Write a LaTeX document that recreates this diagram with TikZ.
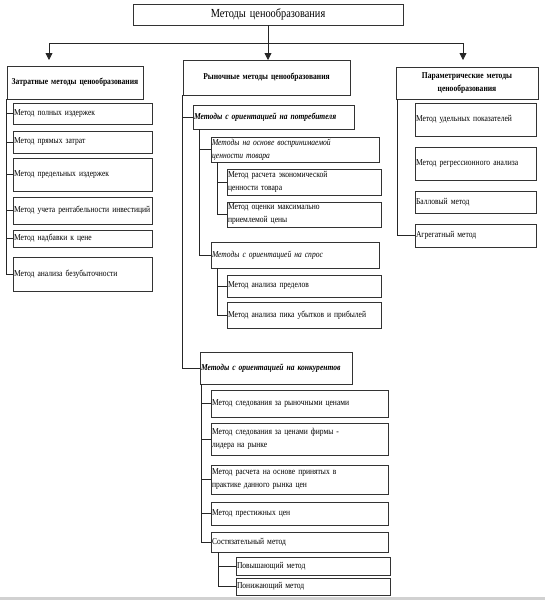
\documentclass[tikz,border=0pt]{standalone}
\usepackage{fontspec}
\setmainfont{Liberation Serif}[FakeStretch=0.84]
\usetikzlibrary{arrows.meta,calc}
\tikzset{
  box/.style={draw=black!80, line width=0.7pt, inner xsep=1pt, inner ysep=0pt, outer sep=0pt,
    font=\fontsize{9}{13}\selectfont, align=left},
  hbox/.style={box, align=center, font=\fontsize{9}{13}\selectfont\bfseries},
  tbox/.style={box, align=center, font=\fontsize{12.3}{14}\selectfont},
  ibox/.style={box, font=\fontsize{9}{13}\selectfont\itshape},
  bibox/.style={box, font=\fontsize{9}{13}\selectfont\bfseries\itshape},
  conn/.style={draw=black!85, line width=0.8pt},
  arr/.style={conn, -{Triangle[width=7pt,length=7pt]}}
}
\newcommand{\mybox}[7]{%
  \pgfmathsetmacro{\mbw}{#4-#2}%
  \pgfmathsetmacro{\mbh}{#5-#3}%
  \pgfmathsetmacro{\mbt}{#4-#2-2}%
  \node[#6, anchor=north west, minimum width=\mbw pt, minimum height=\mbh pt, text width=\mbt pt] (#1) at (#2,-#3) {#7};}
\begin{document}
\begin{tikzpicture}[x=1pt,y=1pt]
\useasboundingbox (0,0) rectangle (545,-600);
\fill[black!18] (0,-596.5) rectangle (545,-600);
% top
\mybox{top}{133}{4}{403}{25}{tbox}{Методы ценообразования}
% headers
\mybox{L}{7}{66}{143}{99}{hbox}{Затратные методы ценообразования}
\mybox{M}{183}{60}{350}{95}{hbox}{Рыночные методы ценообразования}
\mybox{R}{396}{67}{538}{99}{hbox}{Параметрические методы\\ценообразования}
% left children
\mybox{c1}{13}{103}{152}{124}{box}{Метод полных издержек}
\mybox{c2}{13}{131}{152}{153}{box}{Метод прямых затрат}
\mybox{c3}{13}{158}{152}{191}{box}{Метод предельных издержек}
\mybox{c4}{13}{197}{152}{224}{box}{Метод учета рентабельности инвестиций}
\mybox{c5}{13}{230}{152}{247}{box}{Метод надбавки к цене}
\mybox{c6}{13}{257}{152}{291}{box}{Метод анализа безубыточности}
% middle
\mybox{P}{193}{105}{354}{129}{bibox}{Методы с ориентацией на потребителя}
\mybox{V}{211}{137}{379}{162}{ibox}{Методы на основе воспринимаемой\\ценности товара}
\mybox{V1}{227}{169}{381}{195}{box}{Метод расчета экономической\\ценности товара}
\mybox{V2}{227}{202}{381}{227}{box}{Метод оценки максимально\\приемлемой цены}
\mybox{S}{211}{242}{379}{268}{ibox}{Методы с ориентацией на спрос}
\mybox{S1}{227}{275}{381}{297}{box}{Метод анализа пределов}
\mybox{S2}{227}{302}{381}{328}{box}{Метод анализа пика убытков и прибылей}
\mybox{K}{200}{352}{352}{384}{bibox}{Методы с ориентацией на конкурентов}
\mybox{K1}{211}{390}{388}{417}{box}{Метод следования за рыночными ценами}
\mybox{K2}{211}{423}{388}{455}{box}{Метод следования за ценами фирмы -\\лидера на рынке}
\mybox{K3}{211}{465}{388}{494}{box}{Метод расчета на основе принятых в\\практике данного рынка цен}
\mybox{K4}{211}{502}{388}{525}{box}{Метод престижных цен}
\mybox{K5}{211}{532}{388}{552}{box}{Состязательный метод}
\mybox{K51}{236}{557}{390}{575}{box}{Повышающий метод}
\mybox{K52}{236}{578}{390}{595}{box}{Понижающий метод}
% right children
\mybox{R1}{415}{103}{536}{136}{box}{Метод удельных показателей}
\mybox{R2}{415}{147}{536}{180}{box}{Метод регрессионного анализа}
\mybox{R3}{415}{191}{536}{213}{box}{Балловый метод}
\mybox{R4}{415}{224}{536}{247}{box}{Агрегатный метод}
% top connectors
\coordinate (jl) at (49,-43);
\coordinate (jr) at (463,-43);
\draw[conn] (jl) -- (jr);
\draw[arr] (top.south) -- (top.south |- M.north);
\draw[arr, shorten >=6pt] (jl) -- (jl |- L.north);
\draw[arr, shorten >=7pt] (jr) -- (jr |- R.north);
% left
\coordinate (lv) at ($(L.south west)+(-1,0)$);
\draw[conn] (lv) |- (c6.west);
\foreach \n in {c1,c2,c3,c4,c5} \draw[conn] (\n.west -| lv) -- (\n.west);
% middle
\coordinate (mv) at ($(M.south west)+(-1,0)$);
\draw[conn] (mv) |- (K.west);
\draw[conn] (P.west -| mv) -- (P.west);
\coordinate (pv) at ($(P.south west)+(6.5,0)$);
\draw[conn] (pv) |- (S.west);
\draw[conn] (V.west -| pv) -- (V.west);
\coordinate (vv) at ($(V.south west)+(6,0)$);
\draw[conn] (vv) |- (V2.west);
\draw[conn] (V1.west -| vv) -- (V1.west);
\coordinate (sv) at ($(S.south west)+(6,0)$);
\draw[conn] (sv) |- (S2.west);
\draw[conn] (S1.west -| sv) -- (S1.west);
\coordinate (kv) at ($(K.south west)+(1,0)$);
\draw[conn] (kv) |- (K5.west);
\foreach \n in {K1,K2,K3,K4} \draw[conn] (\n.west -| kv) -- (\n.west);
\coordinate (k5v) at ($(K5.south west)+(7,0)$);
\draw[conn] (k5v) |- (K52.west);
\draw[conn] (K51.west -| k5v) -- (K51.west);
% right
\coordinate (rv) at ($(R.south west)+(1,0)$);
\draw[conn] (rv) |- (R4.west);
\end{tikzpicture}
\end{document}
